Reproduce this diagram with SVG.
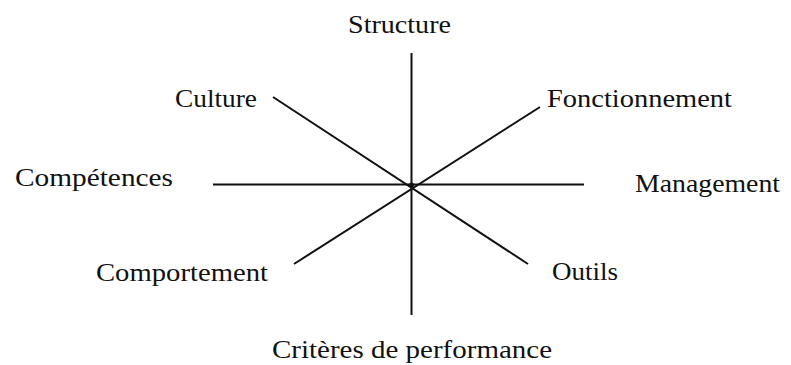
<svg xmlns="http://www.w3.org/2000/svg" width="791" height="365" viewBox="0 0 791 365">
<style>
.lbl { font-family: "Liberation Serif", "Times New Roman", serif; font-size: 26px; fill: #111; }
.ax { stroke: #111; stroke-width: 2; stroke-linecap: butt; fill: none; }
</style>
<rect width="791" height="365" fill="#ffffff"/>
<g id="connectors">
<line class="ax" x1="411.5" y1="53" x2="411.5" y2="315"/>
<line class="ax" x1="213" y1="184.5" x2="584" y2="184.5"/>
<line class="ax" x1="273" y1="97" x2="528" y2="264"/>
<line class="ax" x1="540" y1="107" x2="294" y2="264"/>
<circle cx="411.5" cy="185" r="2.5" fill="#111"/>
</g>
<g id="structure"><text class="lbl" x="348" y="33" textLength="103" lengthAdjust="spacingAndGlyphs">Structure</text></g>
<g id="culture"><text class="lbl" x="175" y="107" textLength="82" lengthAdjust="spacingAndGlyphs">Culture</text></g>
<g id="fonctionnement"><text class="lbl" x="547" y="107" textLength="185" lengthAdjust="spacingAndGlyphs">Fonctionnement</text></g>
<g id="competences"><text class="lbl" x="15" y="186" textLength="158" lengthAdjust="spacingAndGlyphs">Compétences</text></g>
<g id="management"><text class="lbl" x="635" y="192" textLength="145" lengthAdjust="spacingAndGlyphs">Management</text></g>
<g id="comportement"><text class="lbl" x="96" y="281" textLength="172" lengthAdjust="spacingAndGlyphs">Comportement</text></g>
<g id="outils"><text class="lbl" x="552" y="280" textLength="66" lengthAdjust="spacingAndGlyphs">Outils</text></g>
<g id="criteres"><text class="lbl" x="272" y="358" textLength="280" lengthAdjust="spacingAndGlyphs">Critères de performance</text></g>
</svg>
